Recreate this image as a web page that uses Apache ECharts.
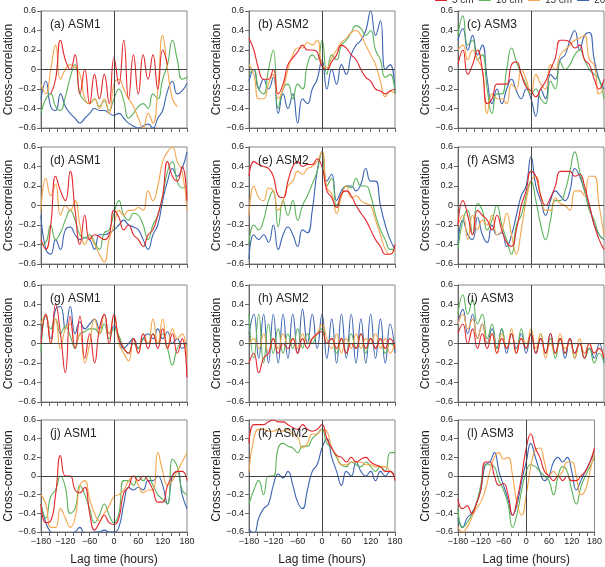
<!DOCTYPE html>
<html lang="en">
<head>
    <meta charset="UTF-8">
    <title>Cross-correlation ASM</title>
    <script src="https://cdn.jsdelivr.net/npm/echarts@6/dist/echarts.min.js"></script>
    <style>
        html, body { margin: 0; padding: 0; background: #fff; }
        #chart { width: 605px; height: 567px; }
    </style>
</head>
<body>
<div id="chart"></div>
<script type="text/javascript">
    // lag axis (hours) and tick labels
    var lags = [-180, -168, -156, -144, -132, -120, -108, -96, -84, -72, -60, -48, -36, -24, -12, 0,
        12, 24, 36, 48, 60, 72, 84, 96, 108, 120, 132, 144, 156, 168, 180];
    var xTickLabels = [-180, -120, -60, 0, 60, 120, 180];
    var depthNames = ['5 cm', '10 cm', '15 cm', '20 cm'];
    var panelLabels = ['(a) ASM1', '(b) ASM2', '(c) ASM3', '(d) ASM1', '(e) ASM2', '(f) ASM3',
        '(g) ASM1', '(h) ASM2', '(i) ASM3', '(j) ASM1', '(k) ASM2', '(l) ASM3'];

    // (a)
    var blueA = [-0.3, -0.12, -0.38, -0.42, -0.25, -0.38, -0.45, -0.5, -0.55, -0.5, -0.45, -0.4, -0.42, -0.42, -0.45, -0.47, -0.45, -0.5, -0.55, -0.58, -0.6, -0.58, -0.56, -0.6, -0.5, -0.42, -0.22, -0.12, -0.25, -0.22, -0.14];
    var greenA = [-0.45, -0.3, -0.25, -0.38, -0.42, -0.28, -0.08, 0.05, -0.25, -0.32, -0.35, -0.3, -0.38, -0.32, -0.42, -0.3, -0.2, -0.32, -0.5, -0.45, -0.38, -0.35, -0.4, -0.25, -0.3, -0.1, 0.05, 0.3, 0.1, -0.1, -0.08];
    var orangeA = [-0.15, -0.25, 0.0, 0.25, -0.1, 0.0, 0.05, 0.02, -0.05, -0.3, -0.35, -0.3, -0.4, -0.3, -0.45, -0.15, -0.1, -0.2, -0.3, -0.38, -0.5, -0.6, -0.45, -0.55, -0.2, 0.35, 0.0, -0.3, -0.38, null, null];
    var redA = [null, null, -0.25, -0.1, 0.3, 0.1, 0.0, 0.15, -0.25, 0.0, -0.35, -0.05, -0.3, -0.05, -0.35, 0.12, -0.15, 0.3, -0.3, 0.15, -0.25, 0.15, -0.1, 0.15, -0.2, 0.2, 0.05, null, null, null, null];
    // (b)
    var blueB = [-0.12, 0.0, -0.2, -0.1, -0.2, -0.08, -0.45, -0.25, -0.4, -0.25, -0.55, -0.3, -0.35, -0.2, -0.1, 0.1, -0.2, 0.0, -0.15, 0.05, -0.05, 0.15, 0.25, 0.3, 0.4, 0.6, 0.35, 0.5, 0.0, 0.05, -0.25];
    var greenB = [-0.05, 0.0, -0.2, -0.25, 0.0, 0.2, -0.4, -0.2, -0.15, -0.3, -0.15, -0.2, 0.05, 0.15, 0.1, 0.3, -0.05, 0.15, 0.1, 0.25, 0.3, 0.38, 0.45, 0.42, 0.35, 0.4, 0.2, 0.1, -0.08, -0.05, -0.25];
    var orangeB = [0.05, -0.05, -0.3, -0.3, -0.15, -0.05, -0.3, -0.2, 0.0, 0.15, 0.22, 0.22, 0.28, 0.25, 0.3, 0.05, 0.02, 0.12, 0.2, 0.28, 0.32, 0.38, 0.4, 0.35, 0.25, 0.15, 0.05, -0.12, -0.28, -0.22, -0.25];
    var redB = [0.32, 0.2, 0.0, -0.1, -0.1, 0.0, -0.25, -0.15, 0.05, 0.12, 0.18, 0.25, 0.2, 0.2, 0.18, 0.03, 0.0, 0.08, 0.15, 0.25, 0.22, 0.15, 0.1, 0.0, -0.08, -0.12, -0.2, -0.22, -0.25, -0.22, -0.2];
    // (c)
    var blueC = [0.3, 0.42, 0.2, 0.35, 0.15, 0.25, -0.1, -0.35, -0.2, -0.35, -0.2, -0.1, -0.22, -0.3, -0.2, -0.3, -0.48, -0.2, -0.3, -0.05, -0.1, 0.1, 0.15, 0.3, 0.4, 0.2, 0.35, 0.38, 0.1, -0.1, -0.2];
    var greenC = [0.35, 0.55, 0.25, 0.3, 0.1, 0.15, -0.2, -0.45, -0.25, -0.25, 0.0, 0.22, 0.08, -0.05, -0.15, -0.25, -0.2, -0.3, -0.35, -0.12, -0.2, 0.08, 0.0, 0.05, 0.15, 0.2, 0.1, 0.0, -0.05, -0.1, -0.3];
    var orangeC = [0.2, 0.25, 0.1, 0.2, 0.1, 0.0, -0.45, -0.25, -0.3, -0.3, -0.35, -0.15, -0.2, 0.0, -0.1, -0.25, -0.05, -0.15, -0.2, 0.05, 0.0, 0.15, 0.2, 0.25, 0.3, 0.32, 0.35, 0.1, 0.05, -0.25, -0.2];
    var redC = [0.05, 0.2, -0.05, 0.05, 0.2, 0.0, -0.35, -0.3, -0.15, -0.15, -0.15, 0.05, 0.08, -0.05, -0.18, -0.22, -0.28, -0.2, -0.12, 0.0, 0.12, 0.3, 0.3, 0.28, 0.22, 0.25, 0.1, 0.05, -0.1, -0.2, -0.1];
    // (d)
    var blueD = [-0.1, -0.45, -0.5, -0.35, -0.45, -0.25, -0.22, -0.3, -0.35, -0.33, -0.35, -0.45, -0.3, -0.3, -0.28, -0.25, -0.2, -0.15, -0.2, -0.22, -0.25, -0.35, -0.45, -0.3, -0.2, 0.05, 0.25, 0.38, 0.3, 0.38, 0.55];
    var greenD = [-0.4, -0.38, -0.2, -0.35, -0.28, -0.15, -0.05, -0.15, -0.3, -0.33, -0.3, -0.38, -0.45, -0.28, -0.25, -0.08, 0.05, -0.1, -0.15, -0.08, -0.1, -0.2, -0.35, -0.2, -0.1, 0.1, 0.35, 0.45, 0.25, 0.18, 0.2];
    var orangeD = [-0.05, 0.28, 0.1, 0.22, -0.1, 0.0, -0.05, 0.05, -0.2, -0.4, -0.32, -0.4, -0.5, -0.58, -0.35, -0.2, -0.05, -0.1, -0.05, -0.05, -0.02, -0.05, 0.15, 0.05, 0.2, 0.45, 0.55, 0.6, 0.45, 0.35, -0.05];
    var redD = [-0.35, -0.45, -0.2, 0.3, 0.15, 0.05, 0.35, -0.05, -0.4, -0.1, -0.35, -0.3, -0.32, -0.35, -0.3, -0.05, -0.12, -0.25, -0.2, -0.3, -0.35, -0.42, -0.3, -0.25, -0.1, 0.1, 0.45, 0.3, 0.25, 0.4, 0.05];
    // (e)
    var blueE = [-0.55, -0.3, -0.35, -0.3, -0.38, -0.2, -0.45, -0.3, -0.22, -0.3, -0.42, -0.25, -0.28, -0.05, 0.35, 0.55, 0.25, 0.32, 0.05, 0.15, 0.2, 0.2, 0.15, 0.22, 0.38, 0.25, 0.25, 0.0, -0.2, -0.35, -0.45];
    var greenE = [-0.4, -0.2, -0.25, -0.15, 0.05, 0.15, -0.22, 0.05, -0.1, 0.05, -0.15, 0.0, 0.1, 0.22, 0.35, 0.55, 0.2, 0.28, 0.0, 0.1, 0.2, 0.18, 0.28, 0.2, 0.2, 0.1, -0.1, -0.25, -0.35, -0.45, -0.45];
    var orangeE = [-0.1, 0.2, 0.08, 0.05, 0.18, 0.15, -0.05, 0.05, 0.2, 0.25, 0.35, 0.32, 0.38, 0.4, 0.45, 0.55, 0.18, 0.12, -0.08, 0.1, 0.2, 0.08, 0.1, 0.05, 0.02, 0.0, -0.15, -0.3, -0.45, -0.5, -0.45];
    var redE = [0.3, 0.45, 0.42, 0.4, 0.38, 0.3, 0.1, 0.08, 0.25, 0.4, 0.45, 0.4, 0.42, 0.42, 0.48, 0.4, 0.15, 0.08, -0.02, 0.12, 0.15, 0.1, 0.0, -0.08, -0.15, -0.25, -0.35, -0.42, -0.5, -0.5, -0.4];
    // (f)
    var blueF = [-0.4, -0.15, -0.3, -0.35, -0.12, -0.3, -0.38, -0.2, -0.3, -0.28, -0.42, -0.3, -0.1, 0.1, 0.2, 0.5, 0.2, 0.05, -0.1, 0.05, 0.15, 0.1, 0.05, 0.15, 0.38, 0.3, 0.15, 0.0, -0.2, -0.3, -0.35];
    var greenF = [-0.45, -0.15, -0.05, -0.3, 0.02, -0.05, -0.25, -0.15, 0.0, -0.2, -0.35, -0.5, -0.2, -0.1, 0.1, 0.25, 0.05, -0.2, -0.35, -0.15, 0.05, 0.05, 0.15, 0.35, 0.55, 0.35, 0.15, -0.05, -0.15, -0.3, -0.35];
    var orangeF = [-0.2, -0.1, -0.35, -0.1, -0.25, -0.15, -0.2, -0.1, -0.3, -0.25, -0.08, -0.3, -0.5, -0.25, 0.05, 0.25, 0.3, 0.1, -0.05, -0.05, 0.08, 0.02, 0.0, -0.05, 0.15, 0.15, 0.1, 0.3, 0.3, 0.0, -0.3];
    var redF = [-0.2, 0.05, -0.1, -0.3, -0.05, -0.1, -0.15, -0.25, -0.1, -0.25, -0.38, -0.42, -0.25, 0.0, 0.15, 0.35, 0.3, 0.1, 0.0, 0.08, 0.2, 0.35, 0.35, 0.35, 0.3, 0.32, 0.2, 0.0, -0.2, -0.35, -0.45];
    // (g)
    var blueG = [0.05, 0.28, 0.05, 0.35, 0.38, 0.15, 0.38, 0.1, 0.22, 0.15, 0.2, 0.25, 0.15, 0.3, 0.1, 0.18, 0.05, -0.05, 0.0, 0.05, -0.05, 0.05, 0.1, 0.05, 0.15, 0.05, 0.12, 0.0, 0.05, -0.05, 0.0];
    var greenG = [-0.1, 0.3, 0.15, 0.25, 0.1, 0.18, 0.08, -0.05, 0.1, 0.12, 0.15, 0.15, 0.1, 0.2, 0.05, 0.15, 0.08, -0.05, -0.1, 0.0, -0.05, 0.05, 0.0, 0.1, 0.0, 0.1, -0.05, -0.22, -0.05, 0.0, -0.05];
    var orangeG = [0.2, 0.3, 0.0, 0.25, -0.05, 0.15, 0.2, -0.05, 0.1, -0.2, 0.0, 0.25, 0.1, 0.3, 0.1, 0.28, 0.0, -0.1, -0.18, 0.05, -0.1, 0.1, 0.0, 0.25, 0.0, 0.25, -0.05, 0.15, 0.05, 0.1, -0.15];
    var redG = [0.0, 0.3, 0.0, 0.4, 0.1, -0.3, 0.28, -0.05, 0.28, -0.15, 0.1, -0.2, 0.15, 0.3, 0.0, 0.3, 0.05, -0.05, -0.1, 0.05, -0.1, 0.1, -0.05, 0.1, -0.05, 0.15, -0.05, 0.1, -0.1, 0.05, -0.35];
    // (h)
    var blueH = [0.1, 0.3, -0.15, 0.3, -0.2, 0.3, -0.2, 0.3, -0.15, 0.3, -0.1, 0.35, 0.0, 0.3, -0.05, 0.3, -0.15, 0.25, -0.2, 0.3, -0.15, 0.3, -0.2, 0.25, -0.2, 0.3, -0.15, 0.25, -0.2, 0.2, -0.1];
    var greenH = [0.3, -0.15, 0.3, -0.2, 0.2, -0.1, 0.15, -0.1, 0.1, -0.05, 0.15, -0.05, 0.1, 0.0, 0.1, 0.15, 0.0, 0.05, -0.1, 0.05, -0.1, 0.1, -0.05, 0.1, -0.1, 0.05, -0.05, 0.05, -0.1, 0.0, -0.05];
    var orangeH = [0.0, 0.05, -0.05, 0.1, -0.1, 0.05, -0.05, 0.1, 0.0, 0.05, -0.05, 0.1, 0.0, 0.05, 0.1, 0.2, 0.05, -0.05, 0.1, -0.1, 0.05, -0.05, 0.1, -0.05, 0.05, 0.0, 0.1, -0.05, 0.05, -0.1, 0.0];
    var redH = [-0.2, -0.1, -0.3, -0.15, -0.1, 0.05, -0.1, 0.0, -0.05, 0.05, -0.1, 0.05, -0.05, 0.05, 0.1, 0.12, 0.0, 0.05, -0.05, 0.05, -0.1, 0.0, -0.05, 0.1, -0.05, 0.05, -0.05, 0.05, -0.05, 0.05, -0.05];
    // (i)
    var blueI = [0.2, 0.35, 0.1, 0.3, 0.05, 0.2, 0.0, 0.15, -0.05, 0.15, -0.1, 0.1, -0.05, 0.1, -0.1, 0.1, -0.1, 0.05, -0.1, 0.1, -0.1, 0.05, -0.15, 0.05, -0.1, 0.0, -0.1, -0.05, -0.15, 0.0, -0.2];
    var greenI = [0.3, 0.5, 0.3, 0.45, 0.2, 0.3, 0.05, 0.2, -0.05, 0.15, -0.05, 0.1, -0.1, 0.15, -0.05, 0.1, -0.1, 0.1, -0.1, 0.05, -0.15, 0.05, -0.1, 0.05, -0.15, 0.0, -0.15, -0.05, -0.2, -0.1, -0.2];
    var orangeI = [0.2, 0.3, 0.15, 0.25, 0.05, 0.2, 0.0, 0.1, -0.1, 0.1, -0.05, 0.15, -0.1, 0.05, 0.0, 0.15, -0.05, 0.1, -0.15, 0.0, -0.1, 0.1, -0.05, 0.0, -0.15, 0.05, -0.1, 0.0, -0.1, -0.05, -0.15];
    var redI = [0.1, 0.2, 0.0, 0.15, -0.05, 0.1, -0.05, 0.1, -0.1, 0.05, -0.05, 0.1, -0.1, 0.05, -0.05, 0.1, -0.1, 0.05, -0.1, 0.1, -0.1, 0.05, -0.1, 0.05, -0.1, 0.0, -0.15, 0.0, -0.1, -0.05, -0.15];
    // (j)
    var blueJ = [-0.3, -0.5, -0.6, -0.62, -0.65, -0.65, -0.62, -0.6, -0.55, -0.62, -0.62, -0.6, -0.6, -0.58, -0.6, -0.6, -0.55, -0.3, -0.12, -0.15, -0.12, -0.15, -0.05, -0.05, 0.0, -0.1, -0.3, 0.0, 0.05, -0.2, -0.35];
    var greenJ = [-0.3, -0.45, -0.22, -0.15, 0.0, -0.12, -0.4, -0.35, -0.1, -0.2, -0.35, -0.5, -0.42, -0.3, -0.42, -0.5, -0.4, -0.05, -0.05, -0.1, 0.0, -0.05, 0.0, -0.1, -0.2, -0.25, -0.3, 0.18, 0.1, -0.15, -0.2];
    var orangeJ = [-0.2, -0.3, -0.55, -0.55, -0.35, -0.45, -0.55, -0.45, -0.1, -0.05, -0.25, -0.4, -0.48, -0.4, -0.32, -0.22, -0.2, -0.15, -0.05, 0.0, -0.1, -0.18, -0.15, -0.15, 0.25, 0.05, -0.1, -0.05, 0.05, 0.15, 0.25];
    var redJ = [-0.3, -0.5, -0.48, -0.2, 0.22, 0.0, 0.0, -0.15, -0.18, -0.12, -0.4, -0.58, -0.5, -0.42, -0.5, -0.52, -0.45, -0.18, -0.12, 0.0, -0.05, 0.0, -0.05, -0.15, -0.28, -0.28, -0.1, 0.0, 0.05, 0.05, -0.05];
    // (k)
    var blueK = [-0.57, -0.62, -0.45, -0.35, -0.3, -0.1, 0.02, -0.02, 0.05, -0.1, -0.28, -0.35, -0.15, 0.05, 0.12, 0.3, 0.4, 0.2, 0.05, -0.1, 0.05, 0.0, 0.15, 0.05, 0.0, 0.05, -0.05, 0.05, 0.0, 0.05, 0.0];
    var greenK = [-0.3, -0.15, -0.05, -0.2, 0.0, 0.0, 0.3, 0.35, 0.32, 0.3, 0.25, 0.32, 0.32, 0.4, 0.45, 0.5, 0.35, 0.3, 0.2, 0.12, 0.1, 0.15, 0.12, 0.1, 0.15, 0.1, 0.05, 0.1, 0.05, 0.25, 0.25];
    var orangeK = [0.05, 0.4, 0.5, 0.5, 0.48, 0.48, 0.5, 0.48, 0.5, 0.45, 0.42, 0.3, 0.35, 0.45, 0.45, 0.5, 0.48, 0.3, 0.22, 0.12, 0.12, 0.15, 0.15, 0.15, 0.12, 0.12, 0.1, 0.1, 0.1, 0.05, 0.0];
    var redK = [0.35, 0.55, 0.55, 0.55, 0.58, 0.6, 0.58, 0.58, 0.55, 0.52, 0.5, 0.55, 0.5, 0.48, 0.5, 0.55, 0.4, 0.3, 0.22, 0.2, 0.15, 0.2, 0.15, 0.18, 0.2, 0.15, 0.12, 0.1, 0.05, 0.05, -0.05];
    // (l)
    var blueL = [-0.45, -0.55, -0.45, -0.4, -0.3, -0.15, 0.12, 0.15, 0.25, 0.05, -0.1, -0.25, -0.42, -0.3, -0.05, 0.15, 0.35, 0.2, 0.05, -0.05, 0.0, 0.15, 0.2, 0.15, 0.2, 0.05, -0.15, -0.05, 0.05, 0.15, 0.25];
    var greenL = [-0.35, -0.55, -0.5, -0.42, -0.3, -0.1, 0.12, 0.12, 0.1, -0.05, -0.15, -0.3, -0.55, -0.4, -0.15, 0.05, 0.12, 0.1, 0.05, 0.0, -0.05, -0.2, 0.0, 0.1, 0.05, -0.15, -0.3, -0.12, 0.0, 0.1, 0.2];
    var orangeL = [-0.55, -0.6, -0.55, -0.45, -0.35, -0.28, -0.15, 0.05, 0.2, 0.25, 0.18, 0.2, 0.0, -0.3, -0.42, -0.2, 0.1, 0.28, 0.3, 0.15, 0.0, 0.05, 0.0, 0.05, 0.15, 0.15, 0.0, -0.2, -0.15, 0.05, 0.25];
    var redL = [-0.25, -0.35, -0.32, -0.4, -0.3, -0.15, 0.15, 0.15, 0.0, -0.1, -0.08, -0.2, -0.42, -0.25, 0.0, 0.3, 0.45, 0.3, 0.2, 0.05, 0.0, -0.05, 0.0, -0.05, 0.0, -0.05, -0.05, 0.0, 0.05, 0.15, 0.3];

    var blueSets = [blueA, blueB, blueC, blueD, blueE, blueF, blueG, blueH, blueI, blueJ, blueK, blueL];
    var greenSets = [greenA, greenB, greenC, greenD, greenE, greenF, greenG, greenH, greenI, greenJ, greenK, greenL];
    var orangeSets = [orangeA, orangeB, orangeC, orangeD, orangeE, orangeF, orangeG, orangeH, orangeI, orangeJ, orangeK, orangeL];
    var redSets = [redA, redB, redC, redD, redE, redF, redG, redH, redI, redJ, redK, redL];

    var colLeft = [41, 249, 458];
    var rowTop = [11, 147, 285, 420];
    var FONT = 'Liberation Sans, Arial, sans-serif';

    function pairs(vals) {
        return lags.map(function (x, k) { return [x, vals[k]]; });
    }
    function minus(v) {
        if (Math.abs(v) < 1e-9) return '0';
        return (v < 0 ? '\u2212' : '') + Math.abs(v).toFixed(1);
    }

    var grids = [], xAxes = [], yAxes = [], series = [], titles = [];
    // drawing order: blue, green, orange, red (red on top)
    var lineDefs = [
        {name: '20 cm', color: '#3d64b2', sets: blueSets},
        {name: '10 cm', color: '#5bb35a', sets: greenSets},
        {name: '15 cm', color: '#f5a54c', sets: orangeSets},
        {name: '5 cm', color: '#e3262c', sets: redSets}
    ];

    for (var i = 0; i < 12; i++) {
        var row = Math.floor(i / 3), col = i % 3;
        grids.push({
            left: colLeft[col], top: rowTop[row], width: 146, height: 117,
            show: true, borderColor: '#888', borderWidth: 1
        });
        xAxes.push({
            gridIndex: i, type: 'value', min: -180, max: 180, interval: 20,
            axisLine: {show: true, onZero: false, lineStyle: {color: '#666'}},
            axisTick: {show: true, length: 4, lineStyle: {color: '#666'}},
            axisLabel: {
                show: row === 3, fontSize: 9, color: '#222', fontFamily: FONT, margin: 5,
                formatter: function (v) {
                    return xTickLabels.indexOf(v) >= 0 ? (v < 0 ? '\u2212' + (-v) : '' + v) : '';
                }
            },
            splitLine: {show: false},
            name: row === 3 ? 'Lag time (hours)' : '',
            nameLocation: 'middle', nameGap: 22,
            nameTextStyle: {fontSize: 12, color: '#222', fontFamily: FONT}
        });
        yAxes.push({
            gridIndex: i, type: 'value', min: -0.6, max: 0.6, interval: 0.2,
            axisLine: {show: true, onZero: false, lineStyle: {color: '#666'}},
            axisTick: {show: true, length: 4, lineStyle: {color: '#666'}},
            axisLabel: {fontSize: 9, color: '#222', fontFamily: FONT, margin: 5, formatter: minus},
            splitLine: {show: false},
            name: 'Cross-correlation', nameLocation: 'middle', nameGap: 26,
            nameTextStyle: {fontSize: 12, color: '#222', fontFamily: FONT}
        });
        titles.push({
            text: panelLabels[i], left: colLeft[col] + 4, top: rowTop[row] + 3,
            textStyle: {fontSize: 12, fontWeight: 'normal', color: '#222', fontFamily: FONT}
        });
        // zero reference lines
        series.push({
            type: 'line', xAxisIndex: i, yAxisIndex: i, data: [[0, 0]],
            showSymbol: false, silent: true, lineStyle: {opacity: 0},
            markLine: {
                silent: true, symbol: 'none', label: {show: false},
                lineStyle: {color: '#444', width: 1, type: 'solid'},
                data: [{yAxis: 0}, {xAxis: 0}]
            }
        });
        lineDefs.forEach(function (d) {
            series.push({
                name: d.name, type: 'line', xAxisIndex: i, yAxisIndex: i,
                data: pairs(d.sets[i]), showSymbol: false, smooth: 0.5,
                connectNulls: false,
                lineStyle: {color: d.color, width: 1.1}, itemStyle: {color: d.color}
            });
        });
    }

    var chart = echarts.init(document.getElementById('chart'));
    chart.setOption({
        animation: false,
        title: titles,
        legend: {
            data: depthNames, left: 430, top: -10, width: 400, itemWidth: 12, itemHeight: 2, itemGap: 5,
            icon: 'rect', textStyle: {fontSize: 10, color: '#333', fontFamily: FONT}
        },
        grid: grids,
        xAxis: xAxes,
        yAxis: yAxes,
        series: series
    });
</script>
</body>
</html>
